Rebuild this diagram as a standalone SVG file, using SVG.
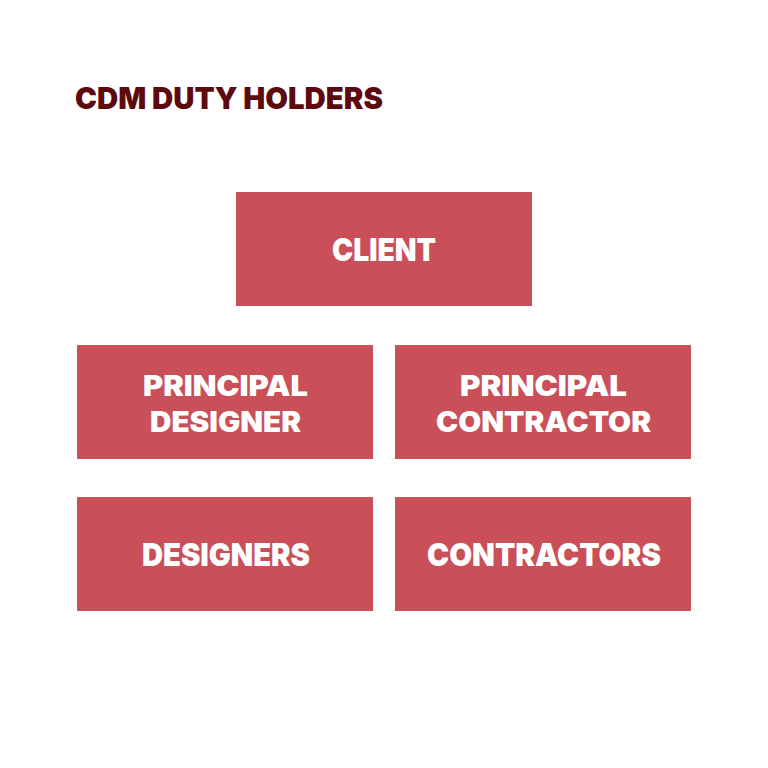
<svg xmlns="http://www.w3.org/2000/svg" width="768" height="768" viewBox="0 0 768 768">
<style>
.box{fill:#c94f58;}
.lbl{font-family:Inter,"Liberation Sans",sans-serif;font-weight:900;font-size:32px;fill:#ffffff;text-anchor:middle;}
.lbl2{font-size:28px;}
.title{font-family:Inter,"Liberation Sans",sans-serif;font-weight:900;font-size:30px;fill:#5c0a0e;}
</style>
<rect width="768" height="768" fill="#ffffff"/>
<text class="title" x="75" y="109" textLength="308" lengthAdjust="spacingAndGlyphs">CDM DUTY HOLDERS</text>
<g id="client">
<rect class="box" x="236" y="192" width="296" height="114"/>
<text class="lbl" x="384" y="261" textLength="104" lengthAdjust="spacingAndGlyphs">CLIENT</text>
</g>
<g id="principal-designer">
<rect class="box" x="77" y="345" width="296" height="114"/>
<text class="lbl lbl2" x="225.5" y="396" textLength="165" lengthAdjust="spacingAndGlyphs">PRINCIPAL</text>
<text class="lbl lbl2" x="225.5" y="432" textLength="151" lengthAdjust="spacingAndGlyphs">DESIGNER</text>
</g>
<g id="principal-contractor">
<rect class="box" x="395" y="345" width="296" height="114"/>
<text class="lbl lbl2" x="543.5" y="396" textLength="167" lengthAdjust="spacingAndGlyphs">PRINCIPAL</text>
<text class="lbl lbl2" x="543.5" y="432" textLength="215" lengthAdjust="spacingAndGlyphs">CONTRACTOR</text>
</g>
<g id="designers">
<rect class="box" x="77" y="497" width="296" height="114"/>
<text class="lbl" x="226" y="566" textLength="168" lengthAdjust="spacingAndGlyphs">DESIGNERS</text>
</g>
<g id="contractors">
<rect class="box" x="395" y="497" width="296" height="114"/>
<text class="lbl" x="544" y="566" textLength="234" lengthAdjust="spacingAndGlyphs">CONTRACTORS</text>
</g>
<g id="connectors"></g>
</svg>
